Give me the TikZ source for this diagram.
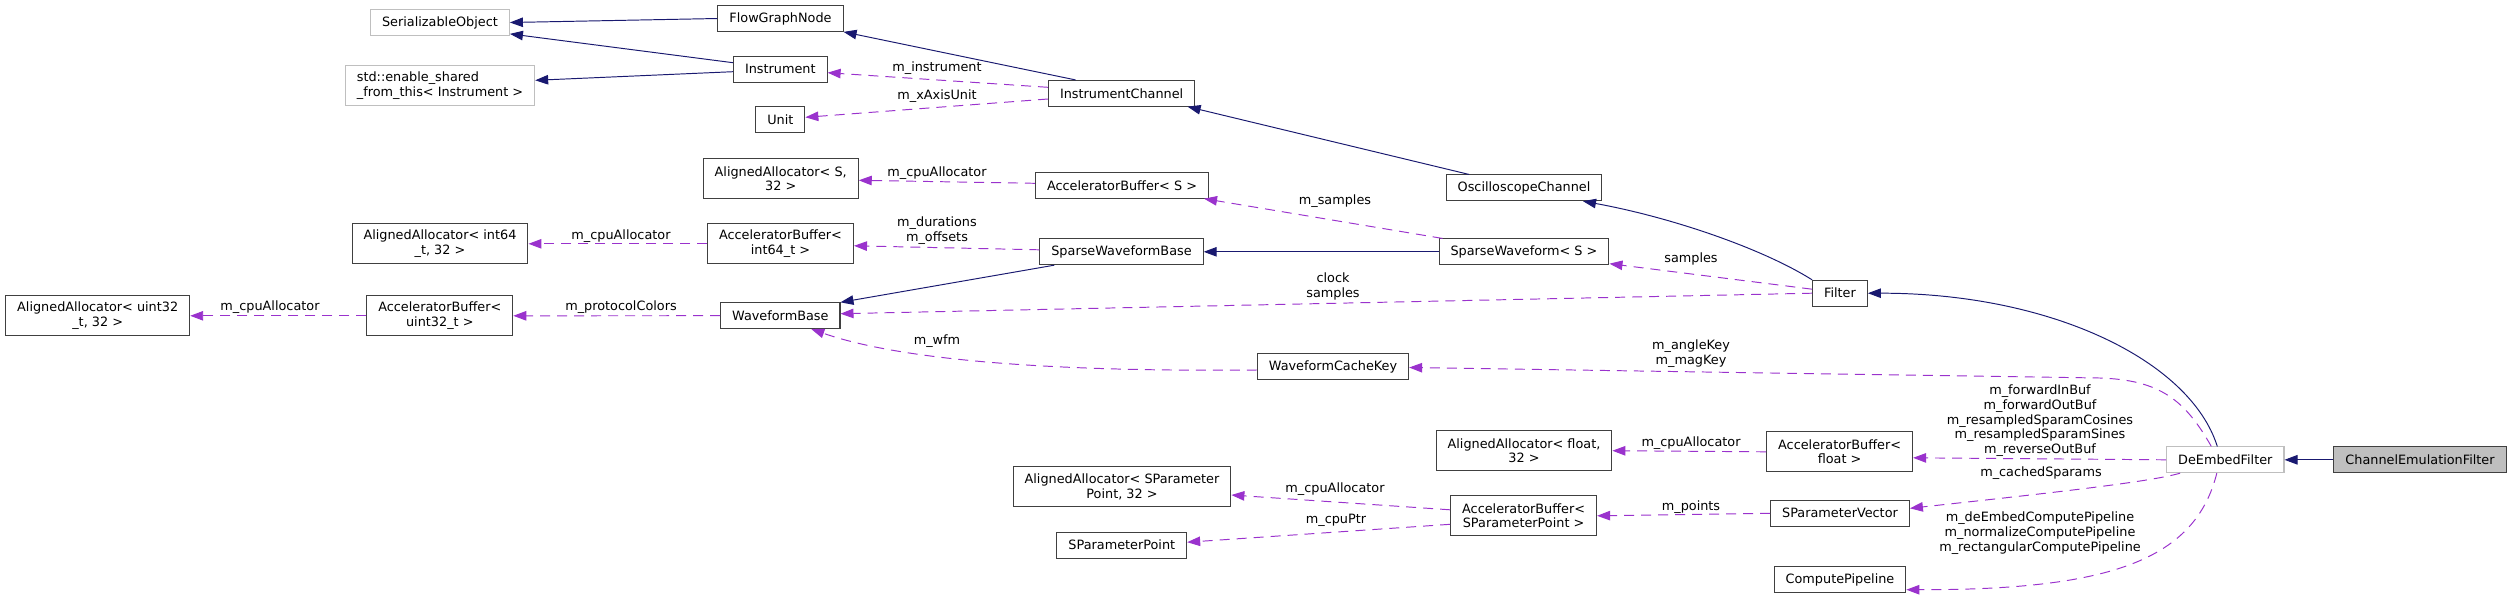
\documentclass[tikz,border=0pt]{standalone}
\usepackage{fontspec}
\setmainfont{DejaVu Sans}
\usetikzlibrary{arrows.meta,calc}
\definecolor{inhcol}{HTML}{191970}
\definecolor{usecol}{HTML}{9A32CD}
\definecolor{boxcol}{HTML}{404040}
\definecolor{greycol}{HTML}{BFBFBF}

\begin{document}
\begin{tikzpicture}[x=0.02cm,y=-0.02cm,
  every node/.style={inner sep=0pt,font=\fontsize{7.3}{8.4}\selectfont},
  cls/.style={draw=boxcol,line width=0.6pt,minimum height=0.514cm,inner xsep=0.23cm,align=center},
  cls2/.style={cls,minimum height=0.806cm},
  undoc/.style={draw=greycol},
  lbl/.style={align=center},
  inhline/.style={draw=inhcol,line width=0.55pt,-{Triangle[length=0.26cm,width=0.19cm]}},
  useline/.style={draw=usecol,line width=0.55pt,dash pattern=on 0.2cm off 0.14cm,-{Triangle[length=0.26cm,width=0.19cm]}}]
\path[use as bounding box,fill=white] (0,0) rectangle (2512,599);

\node[cls,undoc] (serobj) at (440,22.5) {SerializableObject};
\node[cls] (fgnode) at (780.5,18.5) {FlowGraphNode};
\node[cls2,undoc,align=left] (eshared) at (440,85.3) {std::enable\_shared\\\_from\_this< Instrument >};
\node[cls] (instr) at (780.3,69.2) {Instrument};
\node[cls] (unit) at (780.3,119.8) {Unit};
\node[cls] (ichan) at (1121.6,93.3) {InstrumentChannel};
\node[cls2] (aaS) at (780.7,178.8) {AlignedAllocator< S,\\32 >};
\node[cls] (abS) at (1122,185.3) {AcceleratorBuffer< S >};
\node[cls] (oscchan) at (1524,187.8) {OscilloscopeChannel};
\node[cls2] (aa64) at (440,243.8) {AlignedAllocator< int64\\\_t, 32 >};
\node[cls2] (ab64) at (780.5,243.8) {AcceleratorBuffer<\\int64\_t >};
\node[cls] (swbase) at (1121.5,251.8) {SparseWaveformBase};
\node[cls] (swave) at (1524,251.8) {SparseWaveform< S >};
\node[cls2] (aa32) at (97.7,315.8) {AlignedAllocator< uint32\\\_t, 32 >};
\node[cls2] (ab32) at (439.8,315.8) {AcceleratorBuffer<\\uint32\_t >};
\node[cls] (wbase) at (780.3,315.7) {WaveformBase};
\node[cls] (filter) at (1840,293.2) {Filter};
\node[cls] (wckey) at (1333,366.5) {WaveformCacheKey};
\node[cls2] (aaF) at (1524,450.7) {AlignedAllocator< float,\\32 >};
\node[cls2] (abF) at (1839.6,451.8) {AcceleratorBuffer<\\float >};
\node[cls,undoc] (deembed) at (2225.3,459.8) {DeEmbedFilter};
\node[cls,fill=greycol] (chemu) at (2420,459.8) {ChannelEmulationFilter};
\node[cls2] (aaSP) at (1122,486.7) {AlignedAllocator< SParameter\\Point, 32 >};
\node[cls2] (abSP) at (1523.6,515.8) {AcceleratorBuffer<\\SParameterPoint >};
\node[cls] (spvec) at (1840,513.3) {SParameterVector};
\node[cls] (sppoint) at (1121.8,545.2) {SParameterPoint};
\node[cls] (cpipe) at (1840,579.7) {ComputePipeline};

\draw[inhline] (fgnode.west) -- (serobj.east);
\draw[inhline] ($(instr.west)+(0,-6.5)$) -- ($(serobj.south east)+(0,-2)$);
\draw[inhline] ($(instr.west)+(0,2.5)$) -- ($(eshared.east)+(0,-5)$);
\draw[inhline] ($(ichan.north)+(-46,0)$) -- (fgnode.south east);
\draw[inhline] ($(oscchan.north)+(-55,0)$) -- ($(ichan.south)+(66,0)$);
\draw[inhline] (filter.north west) .. controls (1765,250) and (1675,218) .. ($(oscchan.south)+(59,0)$);
\draw[inhline] ($(swbase.south west)+(15,0)$) -- (wbase.north east);
\draw[inhline] (swave.west) -- (swbase.east);
\draw[inhline] ($(deembed.north)+(-8,0)$) .. controls (2190,360) and (2050,293) .. (filter.east);
\draw[inhline] (chemu.west) -- (deembed.east);

\draw[useline] ($(ichan.west)+(0,-6)$) -- ($(instr.east)+(0,3.5)$);
\draw[useline] ($(ichan.west)+(0,5.7)$) -- ($(unit.east)+(0,-2.5)$);
\draw[useline] ($(abS.west)+(0,-2)$) -- ($(aaS.east)+(0,1.5)$);
\draw[useline] ($(swbase.west)+(0,-2)$) -- ($(ab64.east)+(0,2)$);
\draw[useline] (ab64.west) -- (aa64.east);
\draw[useline] ($(swave.north west)+(4,0)$) -- ($(abS.south east)+(-5,0)$);
\draw[useline] (wbase.west) -- (ab32.east);
\draw[useline] (ab32.west) -- (aa32.east);
\draw[useline] ($(filter.west)+(0,-4)$) -- ($(swave.south east)+(0,-1.5)$);
\draw[useline] (filter.west) -- ($(wbase.east)+(0,-2)$);
\draw[useline] ($(wckey.west)+(0,3.5)$) .. controls (1050,372) and (900,360) .. ($(wbase.south)+(31,0)$);
\draw[useline] ($(deembed.north)+(-14,0)$) .. controls (2185,400) and (2160,380) .. (2100,378) -- ($(wckey.east)+(0,1)$);
\draw[useline] (deembed.west) -- ($(abF.east)+(0,6)$);
\draw[useline] (abF.west) -- (aaF.east);
\draw[useline] ($(deembed.south west)+(14,0)$) .. controls (2150,482) and (2050,493) .. ($(spvec.east)+(0,-5)$);
\draw[useline] (spvec.west) -- (abSP.east);
\draw[useline] ($(abSP.west)+(0,-6)$) -- ($(aaSP.east)+(0,8.3)$);
\draw[useline] ($(abSP.west)+(0,8.5)$) -- ($(sppoint.east)+(0,-3)$);
\draw[useline] ($(deembed.south)+(-8.5,0)$) .. controls (2195,560) and (2110,590) .. ($(cpipe.east)+(0,10)$);

\node[lbl] (linstr) at (937,68.3) {m\_instrument};
\node[lbl] (lxunit) at (937,95.7) {m\_xAxisUnit};
\node[lbl] (lcpuS) at (937,172.7) {m\_cpuAllocator};
\node[lbl] (ldur) at (937,230.8) {m\_durations\\m\_offsets};
\node[lbl] (lcpu64) at (621,235.7) {m\_cpuAllocator};
\node[lbl] (lproto) at (621,307.3) {m\_protocolColors};
\node[lbl] (lcpu32) at (270,307.3) {m\_cpuAllocator};
\node[lbl] (lwfm) at (937,340.7) {m\_wfm};
\node[lbl] (lmsamp) at (1335,201) {m\_samples};
\node[lbl] (lclock) at (1333,286.8) {clock\\samples};
\node[lbl] (lcpuSP) at (1335,489) {m\_cpuAllocator};
\node[lbl] (lcpuptr) at (1336,520) {m\_cpuPtr};
\node[lbl] (lsamp) at (1691,259.3) {samples};
\node[lbl] (lkeys) at (1691,353.7) {m\_angleKey\\m\_magKey};
\node[lbl] (lcpuF) at (1691,443.3) {m\_cpuAllocator};
\node[lbl] (lpts) at (1691,506.7) {m\_points};
\node[lbl] (lbufs) at (2040,420.8) {m\_forwardInBuf\\m\_forwardOutBuf\\m\_resampledSparamCosines\\m\_resampledSparamSines\\m\_reverseOutBuf};
\node[lbl] (lcache) at (2041,473.3) {m\_cachedSparams};
\node[lbl] (lpipes) at (2040,533.3) {m\_deEmbedComputePipeline\\m\_normalizeComputePipeline\\m\_rectangularComputePipeline};
\end{tikzpicture}
\end{document}
